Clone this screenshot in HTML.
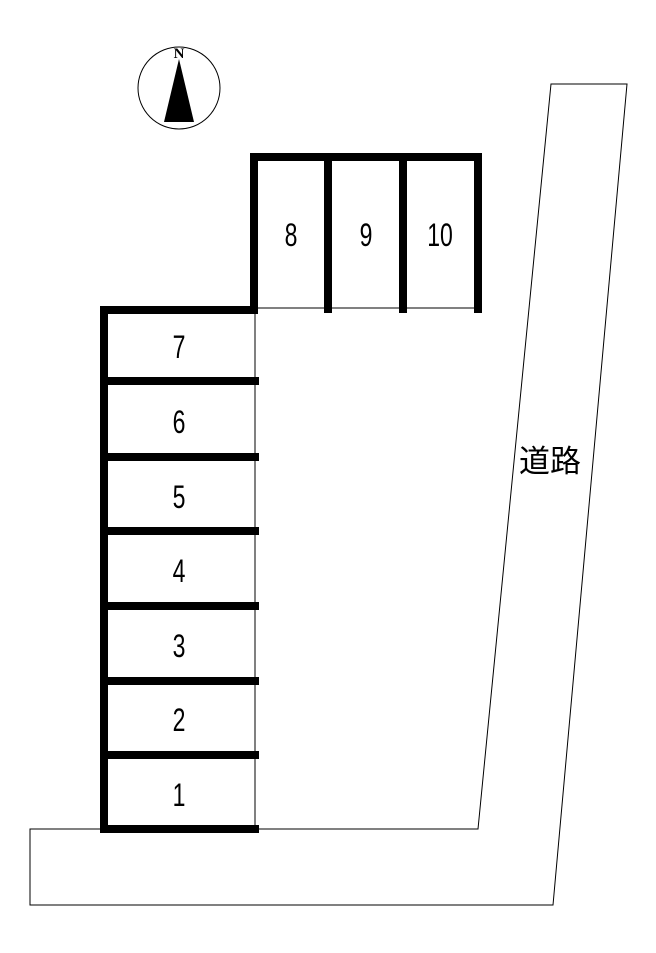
<!DOCTYPE html>
<html><head><meta charset="utf-8"><style>body{margin:0;background:#fff}</style></head><body>
<svg width="656" height="948" xmlns="http://www.w3.org/2000/svg" font-family="Liberation Sans, Noto Sans CJK JP, sans-serif">
<rect width="656" height="948" fill="#fff"/>
<polygon points="30,829 478,829 551,84 627,84 553,905 30,905" fill="none" stroke="#000" stroke-width="1"/>
<circle cx="179" cy="88" r="41" fill="#fff" stroke="#000" stroke-width="1"/>
<polygon points="179,59 164,122 194,122" fill="#000"/>
<text x="179" y="58" font-family="Liberation Serif, serif" font-weight="bold" font-size="15" text-anchor="middle">N</text>
<g stroke="#000" stroke-width="1" fill="none">
<line x1="255" y1="310" x2="255" y2="829"/>
<line x1="254" y1="308" x2="478" y2="308"/>
</g>
<g stroke="#000" stroke-width="8" fill="none" stroke-linecap="butt">
<polyline points="104,833 104,310 254,310 254,157 482,157"/>
<line x1="328" y1="157" x2="328" y2="313"/>
<line x1="403" y1="157" x2="403" y2="313"/>
<line x1="478" y1="157" x2="478" y2="313"/>
<line x1="100" y1="381" x2="259" y2="381"/>
<line x1="100" y1="457" x2="259" y2="457"/>
<line x1="100" y1="531" x2="259" y2="531"/>
<line x1="100" y1="606" x2="259" y2="606"/>
<line x1="100" y1="681" x2="259" y2="681"/>
<line x1="100" y1="755" x2="259" y2="755"/>
<line x1="100" y1="829" x2="259" y2="829"/>
</g>
<g font-size="32" text-anchor="middle">
<text transform="translate(179,358) scale(0.72,1)">7</text>
<text transform="translate(179,433) scale(0.72,1)">6</text>
<text transform="translate(179,508) scale(0.72,1)">5</text>
<text transform="translate(179,582) scale(0.72,1)">4</text>
<text transform="translate(179,657) scale(0.72,1)">3</text>
<text transform="translate(179,731) scale(0.72,1)">2</text>
<text transform="translate(179,806) scale(0.72,1)">1</text>
<text transform="translate(291,246) scale(0.72,1)">8</text>
<text transform="translate(366,246) scale(0.72,1)">9</text>
<text transform="translate(440,246) scale(0.72,1)">10</text>
</g>
<text x="550" y="472" font-size="31" text-anchor="middle">道路</text>
</svg>
</body></html>
